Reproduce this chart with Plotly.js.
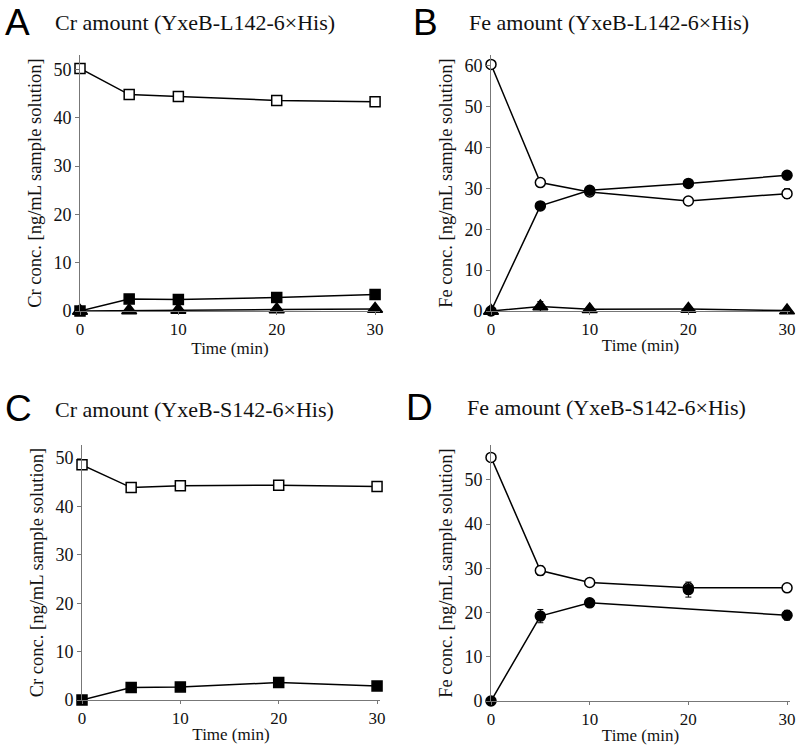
<!DOCTYPE html>
<html><head><meta charset="utf-8">
<script src="https://cdn.plot.ly/plotly-3.0.1.min.js"></script>
<style>body{margin:0;padding:0;background:#fff}#c{width:796px;height:747px}</style>
</head><body><div id="c"></div>
<script>
const time = [0, 5, 10, 20, 30];
// Panel A: Cr amount (YxeB-L142-6xHis)
const crOpenA = [50.2, 44.8, 44.4, 43.6, 43.3];
const crOpenAErr = [0.3, 0.3, 0.3, 0.3, 0.5];
const crFilledA = [0, 2.5, 2.4, 2.8, 3.4];
const crTriA = [0, 0.1, 0.2, 0.3, 0.4];
// Panel B: Fe amount (YxeB-L142-6xHis)
const feOpenB = [60.3, 31.4, 29.1, 26.9, 28.7];
const feOpenBErr = [0.4, 0.4, 0.8, 0.4, 1.2];
const feFilledB = [0, 25.7, 29.5, 31.2, 33.2];
const feFilledBErr = [0, 0.6, 0.5, 0.9, 0.9];
const feTriB = [0, 1.1, 0.4, 0.5, 0.1];
const feTriBErr = [0, 1.2, 0, 0, 0];
// Panel C: Cr amount (YxeB-S142-6xHis)
const crOpenC = [48.6, 43.9, 44.3, 44.4, 44.1];
const crFilledC = [0, 2.6, 2.7, 3.6, 2.9];
// Panel D: Fe amount (YxeB-S142-6xHis)
const feOpenD = [55.1, 29.5, 26.8, 25.6, 25.6];
const feOpenDErr = [0, 1.1, 0.4, 1.0, 0.5];
const feFilledD = [0, 19.2, 22.2, 25.2, 19.4];
const feFilledDErr = [0, 1.5, 0.6, 1.7, 1.1];
const feFilledDLinked = [true, true, true, false, true]; // point at 20 min not joined by the line

const panelTitles = ["Cr amount (YxeB-L142-6×His)", "Fe amount (YxeB-L142-6×His)",
                     "Cr amount (YxeB-S142-6×His)", "Fe amount (YxeB-S142-6×His)"];
const panelLetters = ["A", "B", "C", "D"];
const yTitles = ["Cr conc. [ng/mL sample solution]", "Fe conc. [ng/mL sample solution]",
                 "Cr conc. [ng/mL sample solution]", "Fe conc. [ng/mL sample solution]"];
const xTitle = "Time (min)";
const yTickVals = [[0,10,20,30,40,50],[0,10,20,30,40,50,60],[0,10,20,30,40,50],[0,10,20,30,40,50]];
const xTickVals = [0, 10, 20, 30];

const W = 796, H = 747;
const SERIF = "Liberation Serif";
const px = v => v / W;
const py = v => 1 - v / H;

function errObj(arr) {
  return arr ? {type: 'data', array: arr, visible: true, color: '#000', thickness: 1, width: 3} : {visible: false};
}
function tr(ax, y, sym, err, mode) {
  const open = sym.indexOf('open') >= 0;
  const base = sym.replace('-open', '');
  return {
    x: time, y: y, xaxis: 'x' + ax, yaxis: 'y' + ax, type: 'scatter', mode: mode || 'lines+markers',
    cliponaxis: false, showlegend: false,
    line: {color: '#000', width: 1.5},
    marker: {symbol: base, size: base.indexOf('triangle') >= 0 ? 13 : 10,
             color: open ? '#fff' : '#000', line: {color: '#000', width: 1.5}},
    error_y: errObj(err)
  };
}

const data = [
  tr('', crOpenA, 'square-open', crOpenAErr),
  tr('', crFilledA, 'square'),
  tr('', crTriA, 'triangle-up'),
  tr('2', feOpenB, 'circle-open', feOpenBErr),
  tr('2', feFilledB, 'circle', feFilledBErr),
  tr('2', feTriB, 'triangle-up', feTriBErr),
  tr('3', crOpenC, 'square-open'),
  tr('3', crFilledC, 'square'),
  tr('4', feOpenD, 'circle-open', feOpenDErr),
  Object.assign(tr('4', feFilledD.map((v, i) => feFilledDLinked[i] ? v : null), 'circle', null, 'lines'), {connectgaps: true}),
  tr('4', feFilledD, 'circle', feFilledDErr, 'markers')
];

// geometry (pixels): [xLeft, xRight, yTop, yBottom, xMax, yMax]
const geo = [
  [80, 380, 55, 311, 30.5, 53.0],
  [491, 790, 55, 311, 30.3, 62.6],
  [82, 380, 445, 700, 30.3, 52.7],
  [491, 790, 445, 701, 30.3, 57.9]
];

const layout = {
  width: W, height: H, margin: {l: 0, r: 0, t: 0, b: 0},
  paper_bgcolor: '#fff', plot_bgcolor: '#fff',
  font: {family: SERIF, color: '#111', size: 18},
  annotations: []
};
geo.forEach((g, i) => {
  const s = i === 0 ? '' : String(i + 1);
  layout['xaxis' + s] = {
    domain: [px(g[0]), px(g[1])], anchor: 'y' + s, range: [0, g[4]],
    tickvals: xTickVals, showgrid: false, zeroline: false, showline: true,
    linecolor: '#777', linewidth: 1, ticks: 'outside', ticklen: 3, tickcolor: '#777',
    tickfont: {family: SERIF, size: 17, color: '#111'},
    title: {text: xTitle, font: {family: SERIF, size: 17, color: '#111'}, standoff: 0}
  };
  layout['yaxis' + s] = {
    domain: [py(g[3]), py(g[2])], anchor: 'x' + s, range: [0, g[5]],
    tickvals: yTickVals[i], showgrid: false, zeroline: false, showline: true,
    linecolor: '#777', linewidth: 1, ticks: 'outside', ticklen: 4, tickcolor: '#777',
    tickfont: {family: SERIF, size: 18, color: '#111'},
    title: {text: yTitles[i], font: {family: SERIF, size: 18.5, color: '#111'}, standoff: 6}
  };
});
const titlePos = [[53, 22], [467, 22], [53, 409], [465, 407]];
const letterPos = [[3, 22], [411, 22], [3, 408], [404, 407]];
panelTitles.forEach((t, i) => {
  layout.annotations.push({text: t, xref: 'paper', yref: 'paper', x: px(titlePos[i][0]), y: py(titlePos[i][1]),
    xanchor: 'left', yanchor: 'middle', showarrow: false, font: {family: SERIF, size: 22, color: '#111'}});
  layout.annotations.push({text: panelLetters[i], xref: 'paper', yref: 'paper', x: px(letterPos[i][0]), y: py(letterPos[i][1]),
    xanchor: 'left', yanchor: 'middle', showarrow: false, font: {family: 'Liberation Sans', size: 37, color: '#000'}});
});

Plotly.newPlot('c', data, layout, {staticPlot: true, displayModeBar: false});
</script></body></html>
